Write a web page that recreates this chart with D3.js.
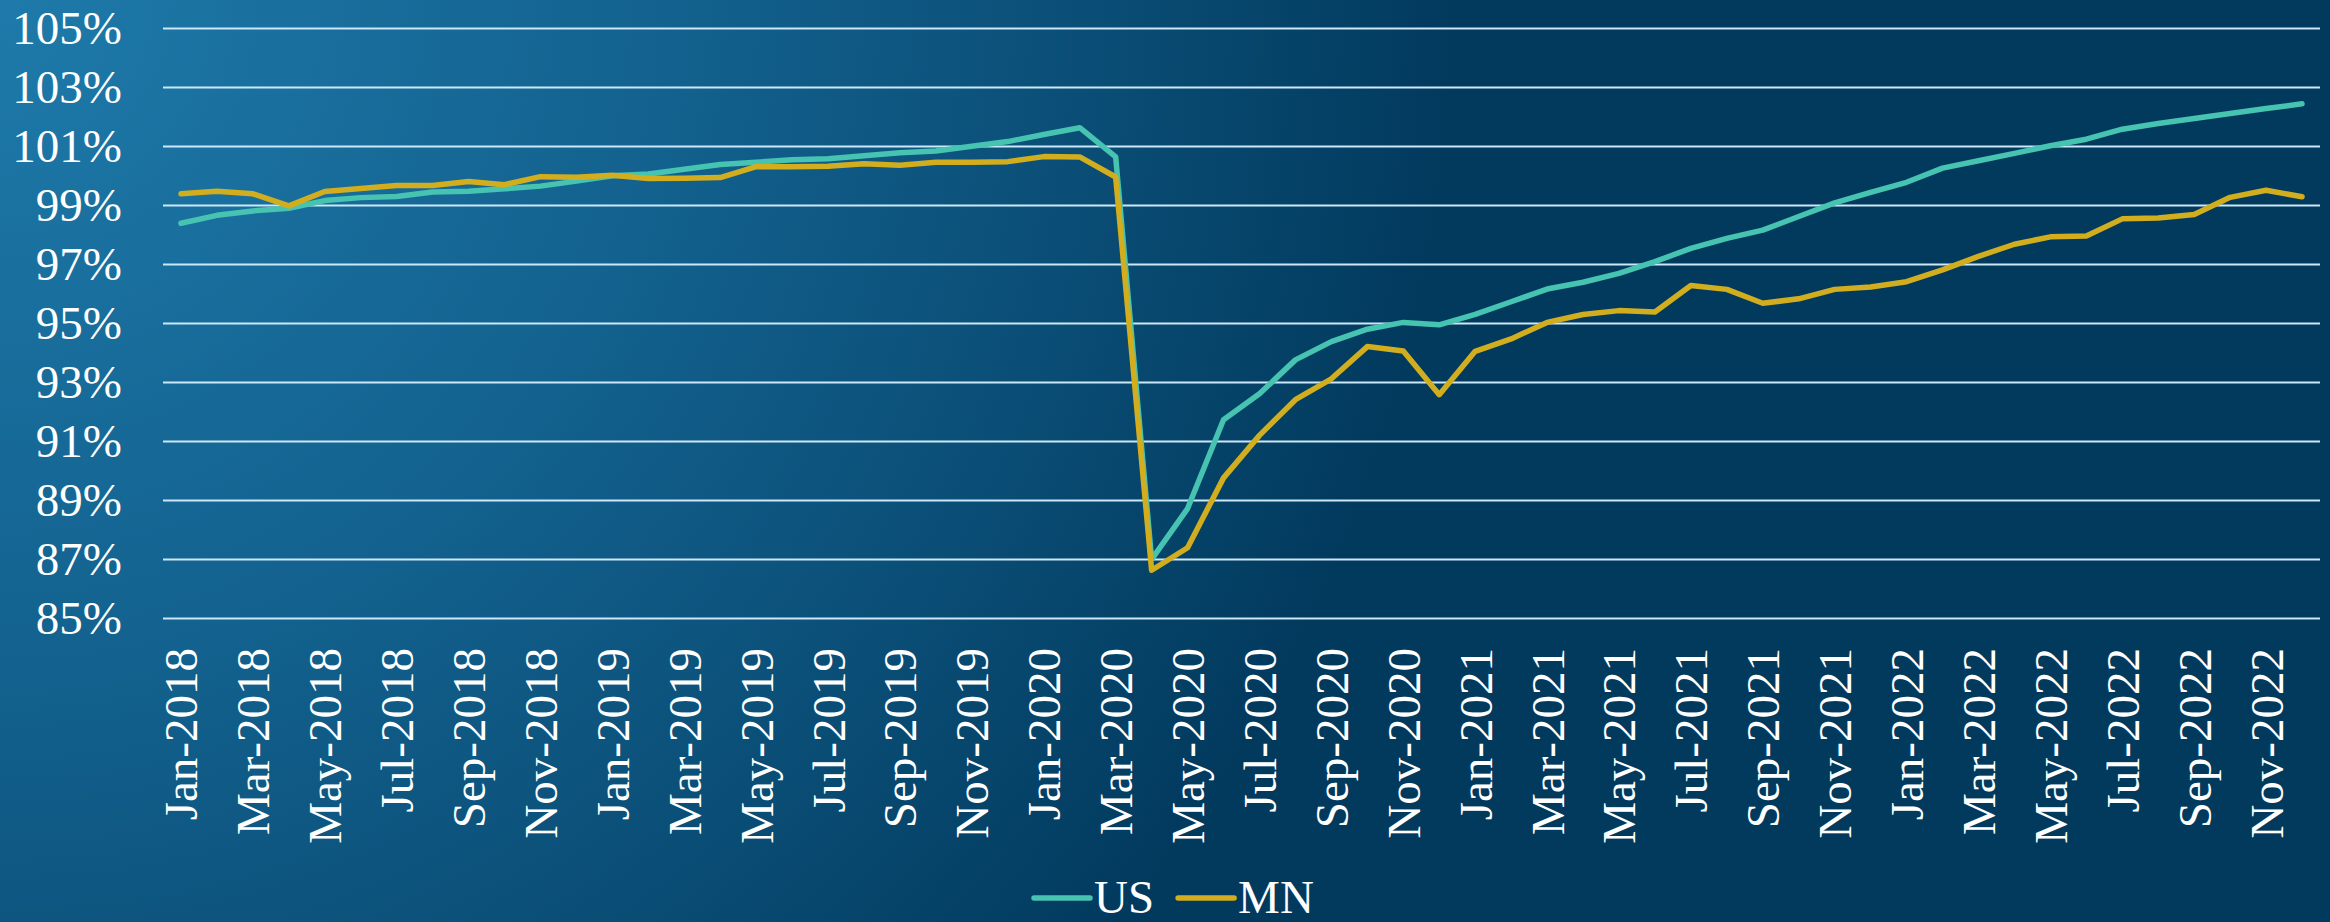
<!DOCTYPE html>
<html>
<head>
<meta charset="utf-8">
<script src="https://cdn.jsdelivr.net/npm/d3@7"></script>
<style>
  html, body { margin: 0; padding: 0; overflow: hidden; }
  svg { display: block; }
  text { font-family: "Liberation Serif", "Times New Roman", serif; fill: #ffffff; }
</style>
</head>
<body>
<svg id="chart"></svg>
<script>
// monthly index, Jan-2018 .. Dec-2022
const months = d3.timeMonth.range(new Date(2018, 0, 1), new Date(2023, 0, 1));

const usValues = [
  98.38, 98.65, 98.80, 98.89, 99.15, 99.25, 99.29, 99.44, 99.47, 99.55, 99.64, 99.81,
  99.99, 100.05, 100.21, 100.37, 100.45, 100.53, 100.57, 100.67, 100.77, 100.83, 100.99, 101.15,
  101.39, 101.62, 100.63, 86.99, 88.71, 91.72, 92.60, 93.75, 94.37, 94.79, 95.02, 94.94,
  95.29, 95.72, 96.15, 96.38, 96.68, 97.08, 97.53, 97.87, 98.15, 98.61, 99.07, 99.43,
  99.77, 100.25, 100.50, 100.75, 101.01, 101.23, 101.57, 101.76, 101.93, 102.10, 102.27, 102.43
];

const mnValues = [
  99.38, 99.47, 99.38, 98.97, 99.46, 99.56, 99.66, 99.66, 99.80, 99.69, 99.96, 99.94,
  100.01, 99.90, 99.91, 99.93, 100.30, 100.30, 100.31, 100.40, 100.35, 100.45, 100.45, 100.47,
  100.64, 100.63, 99.95, 86.62, 87.38, 89.75, 91.19, 92.40, 93.11, 94.20, 94.05, 92.57,
  94.04, 94.46, 95.02, 95.29, 95.42, 95.37, 96.27, 96.14, 95.67, 95.82, 96.14, 96.22,
  96.40, 96.80, 97.26, 97.67, 97.92, 97.95, 98.53, 98.56, 98.68, 99.26, 99.50, 99.28
];

const yTicks = [85, 87, 89, 91, 93, 95, 97, 99, 101, 103, 105];

const series = [
  { name: "US", values: usValues, color: "#47c3b1" },
  { name: "MN", values: mnValues, color: "#d2ae1f" }
];

const width = 2330, height = 922;
const margin = { top: 28, right: 10, bottom: 304, left: 163 };

const svg = d3.select("#chart").attr("width", width).attr("height", height);

// background
const defs = svg.append("defs");
const grad = defs.append("radialGradient")
  .attr("id", "bg")
  .attr("gradientUnits", "userSpaceOnUse")
  .attr("cx", 0).attr("cy", 0).attr("r", 1450);
grad.append("stop").attr("offset", "0").attr("stop-color", "#1e7aaa");
grad.append("stop").attr("offset", "0.45").attr("stop-color", "#13628f");
grad.append("stop").attr("offset", "0.72").attr("stop-color", "#0b5079");
grad.append("stop").attr("offset", "1").attr("stop-color", "#023a5e");
svg.append("rect").attr("width", width).attr("height", height).attr("fill", "url(#bg)");

const x = d3.scaleBand()
  .domain(months)
  .range([margin.left, width - margin.right]);

const y = d3.scaleLinear()
  .domain([85, 105])
  .range([height - margin.bottom, margin.top]);

const fmt = d3.timeFormat("%b-%Y");

// y axis + gridlines
const yAxis = svg.append("g")
  .attr("transform", `translate(${margin.left},0)`)
  .call(d3.axisLeft(y)
    .tickValues(yTicks)
    .tickFormat(d => d + "%")
    .tickSize(-(width - margin.left - margin.right))
    .tickPadding(41));
yAxis.select(".domain").remove();
yAxis.selectAll(".tick line").attr("stroke", "#cbe7f8").attr("stroke-width", 2.2);
yAxis.selectAll(".tick text").attr("font-size", 47).attr("fill", "#ffffff");

// x axis labels
const xAxis = svg.append("g")
  .attr("transform", `translate(0,${height - margin.bottom})`)
  .call(d3.axisBottom(x)
    .tickValues(months.filter((d, i) => i % 2 === 0))
    .tickFormat(fmt)
    .tickSize(0));
xAxis.select(".domain").remove();
xAxis.selectAll(".tick text")
  .attr("font-size", 47)
  .attr("fill", "#ffffff")
  .attr("text-anchor", "end")
  .attr("transform", "rotate(-90)")
  .attr("x", -30)
  .attr("y", 0)
  .attr("dy", "0.35em");

// lines
const line = d3.line()
  .x((d, i) => x(months[i]) + x.bandwidth() / 2)
  .y(d => y(d));

series.forEach(s => {
  svg.append("path")
    .datum(s.values)
    .attr("d", line)
    .attr("fill", "none")
    .attr("stroke", s.color)
    .attr("stroke-width", 5.5)
    .attr("stroke-linejoin", "round")
    .attr("stroke-linecap", "round");
});

// legend
const legend = svg.append("g").attr("transform", "translate(1034,898)");
let lx = 0;
series.forEach(s => {
  legend.append("line")
    .attr("x1", lx).attr("x2", lx + 56)
    .attr("y1", 0).attr("y2", 0)
    .attr("stroke", s.color)
    .attr("stroke-width", 5.5)
    .attr("stroke-linecap", "round");
  const t = legend.append("text")
    .attr("x", lx + 60)
    .attr("y", 15)
    .attr("font-size", 47)
    .text(s.name);
  lx += 60 + t.node().getComputedTextLength() + 24;
});
</script>
</body>
</html>
